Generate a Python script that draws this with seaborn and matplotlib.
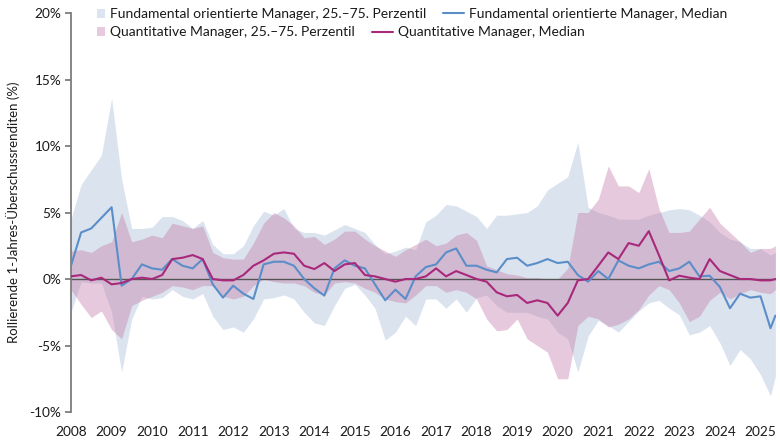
import pandas as pd
import seaborn as sns
import matplotlib.pyplot as plt
import matplotlib.dates as mdates
from matplotlib.patches import Patch
from matplotlib.lines import Line2D

# Quartalswerte 2008 Q1 .. 2025 Q2 plus letzter Monat
dates = list(pd.date_range("2008-01-01", "2025-04-01", freq="QS")) + [pd.Timestamp("2025-05-15")]

fund_p75 = [4.5, 7.1, 8.2, 9.3,   13.6, 7.5, 3.8, 3.8,   3.9, 4.7, 4.7, 4.4,   3.8, 4.4, 2.6, 1.9,
            1.9, 2.5, 4.0, 5.1,   4.8, 5.3, 3.8, 3.5,   3.5, 3.3, 3.7, 4.1,   3.8, 3.5, 2.6, 1.9,
            2.1, 2.4, 2.2, 4.3,   4.8, 5.6, 5.5, 5.1,   4.7, 3.8, 4.8, 4.8,   4.9, 5.0, 5.5, 6.7,
            7.2, 7.7, 10.3, 5.4,  5.0, 4.8, 4.5, 4.5,   4.5, 4.8, 5.0, 5.2,   5.3, 5.2, 4.8, 4.3,
            3.5, 3.0, 2.8, 2.3,   2.3, 1.8, 2.0]
fund_p25 = [-2.5, -0.2, -0.3, -0.3,  -2.5, -7.0, -3.0, -1.3,  -1.5, -1.4, -0.8, -1.3,  -1.5, -1.1, -2.8, -3.8,
            -3.6, -4.0, -3.0, -1.5,  -1.4, -1.2, -1.5, -2.5,  -3.3, -3.5, -2.0, -0.7,  -0.4, -1.2, -2.2, -4.6,
            -4.0, -2.8, -3.5, -1.5,  -1.5, -2.2, -1.5, -2.5,  -1.4, -1.2, -2.0, -2.5,  -2.5, -2.5, -2.8, -3.0,
            -4.0, -4.5, -7.0, -4.3,  -3.1, -3.5, -4.0, -3.2,  -2.4, -1.8, -1.6, -2.2,  -2.7, -4.2, -4.0, -3.5,
            -4.8, -6.5, -5.3, -6.0,  -7.2, -8.8, -7.3]
fund_median = [1.0, 3.5, 3.8, 4.6,   5.4, -0.5, 0.0, 1.1,   0.8, 0.7, 1.5, 1.0,   0.8, 1.5, -0.4, -1.4,
               -0.5, -1.1, -1.5, 1.1,  1.3, 1.3, 1.0, 0.0,  -0.7, -1.25, 0.8, 1.4,  1.0, 0.8, -0.4, -1.6,
               -0.8, -1.5, 0.2, 0.9,   1.1, 2.0, 2.3, 1.0,   1.0, 0.7, 0.5, 1.5,   1.6, 1.0, 1.2, 1.5,
               1.2, 1.3, 0.3, -0.2,   0.6, 0.0, 1.4, 1.0,   0.8, 1.1, 1.3, 0.6,   0.8, 1.3, 0.2, 0.25,
               -0.6, -2.2, -1.1, -1.4,  -1.3, -3.7, -2.75]

quant_p75 = [2.1, 2.2, 2.0, 2.5,   2.8, 5.0, 2.8, 3.0,   3.3, 3.1, 4.2, 4.0,   3.8, 4.0, 2.0, 1.6,
             1.5, 1.5, 2.7, 4.2,   5.0, 4.6, 4.0, 3.1,   3.2, 2.6, 3.0, 3.6,   3.6, 3.0, 2.5, 2.1,
             1.7, 2.2, 2.6, 3.0,   2.5, 2.7, 3.3, 3.5,   2.9, 1.0, 0.7, 0.4,   0.3, 0.1, 0.1, 0.0,
             0.0, 0.8, 5.0, 5.0,   6.0, 8.5, 7.0, 7.0,   6.5, 8.3, 5.3, 3.5,   3.5, 3.6, 4.5, 5.4,
             4.2, 3.5, 2.8, 2.0,   2.3, 2.3, 2.5]
quant_p25 = [-0.8, -1.9, -2.9, -2.4,  -3.8, -4.5, -2.0, -1.6,  -1.3, -1.0, -0.5, -0.6,  -0.8, -0.5, -0.5, -1.3,
             -1.5, -1.3, -0.5, 0.0,   -0.2, -0.3, -0.3, -0.5,  -1.0, -1.2, -0.3, -0.2,  -0.3, -0.7, -1.0, -1.5,
             -1.7, -1.8, -1.2, -0.5,  -0.5, -1.0, -0.8, -1.0,  -1.5, -3.0, -3.9, -3.8,  -3.0, -4.5, -5.0, -5.5,
             -7.5, -7.5, -3.5, -2.8,  -3.0, -3.6, -3.4, -3.0,  -2.3, -1.2, -0.5, -0.8,  -1.8, -3.2, -2.8, -1.6,
             -1.0, -1.5, -1.1, -0.8,  -1.0, -1.1, -0.8]
quant_median = [0.2, 0.3, -0.1, 0.1,   -0.4, -0.3, 0.0, 0.1,   0.0, 0.3, 1.5, 1.6,   1.8, 1.5, 0.0, -0.1,
                -0.1, 0.3, 1.0, 1.4,   1.9, 2.0, 1.9, 1.0,   0.75, 1.2, 0.6, 1.1,   1.2, 0.3, 0.2, 0.0,
                -0.2, 0.0, 0.0, 0.2,   0.8, 0.2, 0.6, 0.3,   0.0, -0.2, -1.0, -1.3,  -1.2, -1.8, -1.6, -1.8,
                -2.75, -1.8, -0.1, 0.0,  1.0, 2.0, 1.5, 2.7,   2.5, 3.6, 1.8, -0.1,   0.25, 0.1, 0.0, 1.5,
                0.6, 0.3, 0.0, 0.0,   -0.1, -0.1, 0.0]

labels = {
    "fund_band": "Fundamental orientierte Manager, 25.\u201375. Perzentil",
    "fund_med": "Fundamental orientierte Manager, Median",
    "quant_band": "Quantitative Manager, 25.\u201375. Perzentil",
    "quant_med": "Quantitative Manager, Median",
}
yticks = [-10, -5, 0, 5, 10, 15, 20]

blue_band = "#b8c9e1"
pink_band = "#c27aa8"
blue_line = "#5b8ec9"
pink_line = "#a8287a"
text_col = "#1a1a1a"

sns.set_theme(style="white")
plt.rcParams["font.family"] = ["Lato", "DejaVu Sans"]

fig = plt.figure(figsize=(7.8, 4.4), dpi=100)
ax = fig.add_axes([0.091, 0.0636, 0.9038, 0.9068])

ax.fill_between(dates, fund_p25, fund_p75, color=blue_band, alpha=0.5, lw=0)
ax.fill_between(dates, quant_p25, quant_p75, color=pink_band, alpha=0.4, lw=0)
ax.axhline(0, color="#555555", lw=1, zorder=2)

df = pd.DataFrame({
    "date": dates * 2,
    "value": fund_median + quant_median,
    "series": [labels["fund_med"]] * len(dates) + [labels["quant_med"]] * len(dates),
})
sns.lineplot(data=df, x="date", y="value", hue="series",
             palette={labels["fund_med"]: blue_line, labels["quant_med"]: pink_line},
             lw=1.5, ax=ax, legend=False, zorder=3)

ax.set_xlim(pd.Timestamp("2008-01-01"), pd.Timestamp("2025-05-20"))
ax.set_ylim(-10, 20)
ax.set_yticks(yticks)
ax.set_yticklabels([f"{v}%" for v in yticks])
ax.xaxis.set_major_locator(mdates.YearLocator())
ax.xaxis.set_major_formatter(mdates.DateFormatter("%Y"))
ax.set_xlabel("")
ax.set_ylabel("Rollierende 1-Jahres-\u00dcberschussrenditen (%)", fontsize=9.5, color=text_col, labelpad=7)

for s in ["top", "right", "bottom"]:
    ax.spines[s].set_visible(False)
ax.spines["left"].set_color("#777777")
ax.tick_params(axis="y", left=True, length=4, color="#777777", labelsize=9.8, labelcolor=text_col, pad=3)
ax.tick_params(axis="x", bottom=False, labelsize=9.8, labelcolor=text_col, pad=4)

# Legende als freie Zeilen wie im Original
def entry(handle, text, x, y, hl):
    leg = fig.legend([handle], [text], loc="center left", bbox_to_anchor=(x, y),
                     frameon=False, fontsize=10, borderpad=0, borderaxespad=0,
                     handlelength=hl, handleheight=0.6, handletextpad=0.35)
    for t in leg.get_texts():
        t.set_color(text_col)

y1 = 1 - 14 / 440
y2 = 1 - 32.5 / 440
entry(Patch(facecolor="#dbe4f0", edgecolor="none"), labels["fund_band"], 96.5 / 780, y1, 0.6)
entry(Patch(facecolor="#e7cade", edgecolor="none"), labels["quant_band"], 96.5 / 780, y2, 0.6)
entry(Line2D([], [], color=blue_line, lw=1.5), labels["fund_med"], 443 / 780, y1, 1.5)
entry(Line2D([], [], color=pink_line, lw=1.5), labels["quant_med"], 372 / 780, y2, 1.5)

fig.savefig("out.png", dpi=100)
